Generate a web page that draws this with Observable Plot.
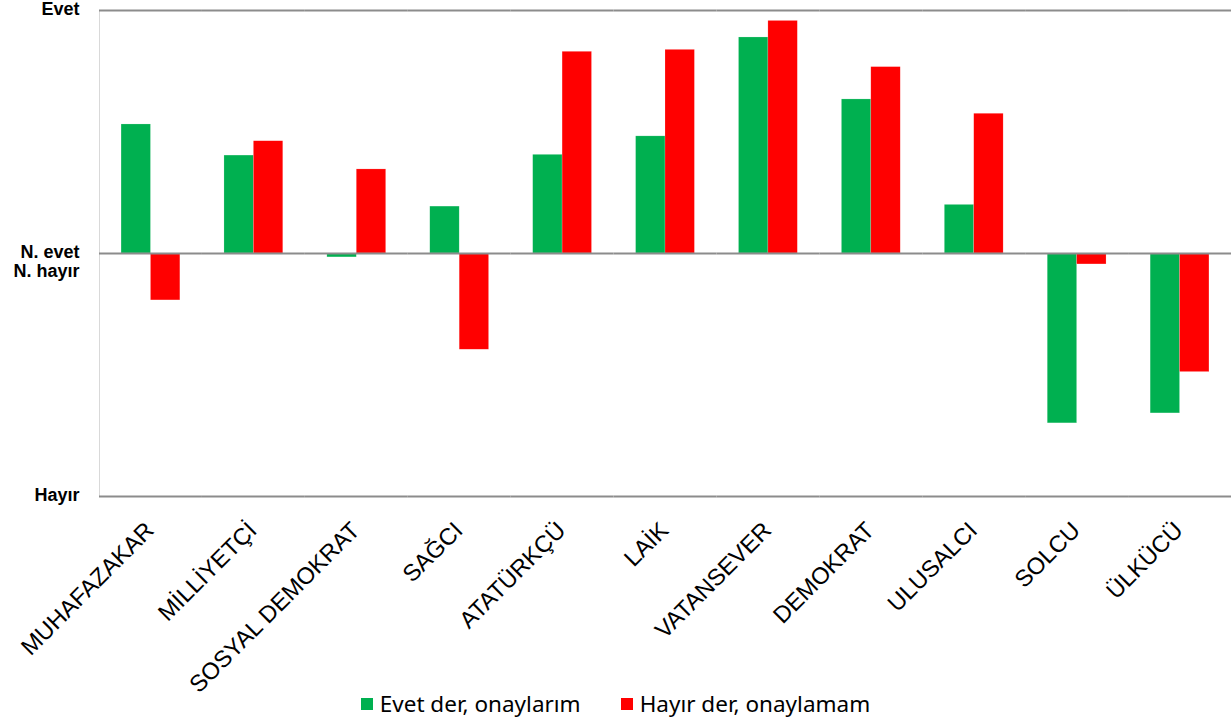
<!DOCTYPE html>
<html>
<head>
<meta charset="utf-8">
<script src="https://cdn.jsdelivr.net/npm/d3@7"></script>
<script src="https://cdn.jsdelivr.net/npm/@observablehq/plot@0.6"></script>
<style>
  html, body { margin: 0; padding: 0; background: #fff; }
  body { min-height: 724px; }
  #chart { width: 1231px; }
  #chart svg { display: block; }
  .legend { display: flex; justify-content: center; align-items: center; height: 26px; margin-top: -7px;
    font-family: "Noto Sans", "Open Sans", sans-serif; font-size: 22.5px; line-height: 26px; color: #000;
    position: relative; }
  .legend .item { display: flex; align-items: center; margin: 0 20px; }
  .legend .sw { width: 12px; height: 12px; margin-right: 7px; display: inline-block; }
</style>
</head>
<body>
<div id="chart"></div>
<script>
const categories = ["MUHAFAZAKAR", "MİLLİYETÇİ", "SOSYAL DEMOKRAT", "SAĞCI", "ATATÜRKÇÜ", "LAİK", "VATANSEVER", "DEMOKRAT", "ULUSALCI", "SOLCU", "ÜLKÜCÜ"];
const seriesNames = ["Evet der, onaylarım", "Hayır der, onaylamam"];
const seriesColors = ["#00b050", "#ff0000"];
const evetValues  = [0.531, 0.403, -0.016, 0.193, 0.406, 0.482, 0.889, 0.634, 0.200, -0.699, -0.658];
const hayirValues = [-0.193, 0.462, 0.346, -0.396, 0.830, 0.838, 0.957, 0.767, 0.575, -0.045, -0.488];
const yTicks = [1, 0, -1];
const yTickLabels = ["Evet", "N. evet\nN. hayır", "Hayır"];

const data = [];
categories.forEach((c, i) => {
  data.push({cat: c, series: seriesNames[0], value: evetValues[i]});
  data.push({cat: c, series: seriesNames[1], value: hayirValues[i]});
});

const chart = Plot.plot({
  width: 1231,
  height: 698,
  marginLeft: 99,
  marginRight: 0,
  marginTop: 10,
  marginBottom: 202,
  style: {fontFamily: "'Liberation Sans', Arial, sans-serif", color: "#000", background: "#fff", overflow: "visible"},
  fx: {domain: categories, padding: 0, round: false, label: null, axis: null},
  x: {domain: seriesNames, paddingInner: 0, paddingOuter: 0.75, round: false, axis: null},
  y: {domain: [-1, 1], axis: null},
  color: {domain: seriesNames, range: seriesColors},
  marks: [
    Plot.frame({anchor: "left", facetAnchor: "left", stroke: "#d9d9d9", strokeWidth: 1}),
    Plot.barY(data, {fx: "cat", x: "series", y: "value", fill: "series", stroke: "#ffffff", strokeOpacity: 0.35, strokeWidth: 0.5}),
    Plot.ruleY(yTicks, {stroke: "#8c8c8c", strokeWidth: 2}),
    Plot.axisY({
      ticks: yTicks,
      tickFormat: d => yTickLabels[yTicks.indexOf(d)],
      tickSize: 0,
      tickPadding: 20,
      fontSize: 18,
      fontWeight: "bold",
      lineAnchor: "top",
      lineHeight: 1.05,
      dy: -8.5,
      label: null
    }),
    Plot.axisFx({
      anchor: "bottom",
      tickRotate: -45,
      tickSize: 0,
      tickPadding: 30,
      dx: -1,
      fontSize: 23.5,
      label: null
    })
  ]
});
document.getElementById("chart").appendChild(chart);

const legend = document.createElement("div");
legend.className = "legend";
seriesNames.forEach((name, i) => {
  const item = document.createElement("span");
  item.className = "item";
  const sw = document.createElement("span");
  sw.className = "sw";
  sw.style.background = seriesColors[i];
  item.appendChild(sw);
  item.appendChild(document.createTextNode(name));
  legend.appendChild(item);
});
document.getElementById("chart").appendChild(legend);
</script>
</body>
</html>
